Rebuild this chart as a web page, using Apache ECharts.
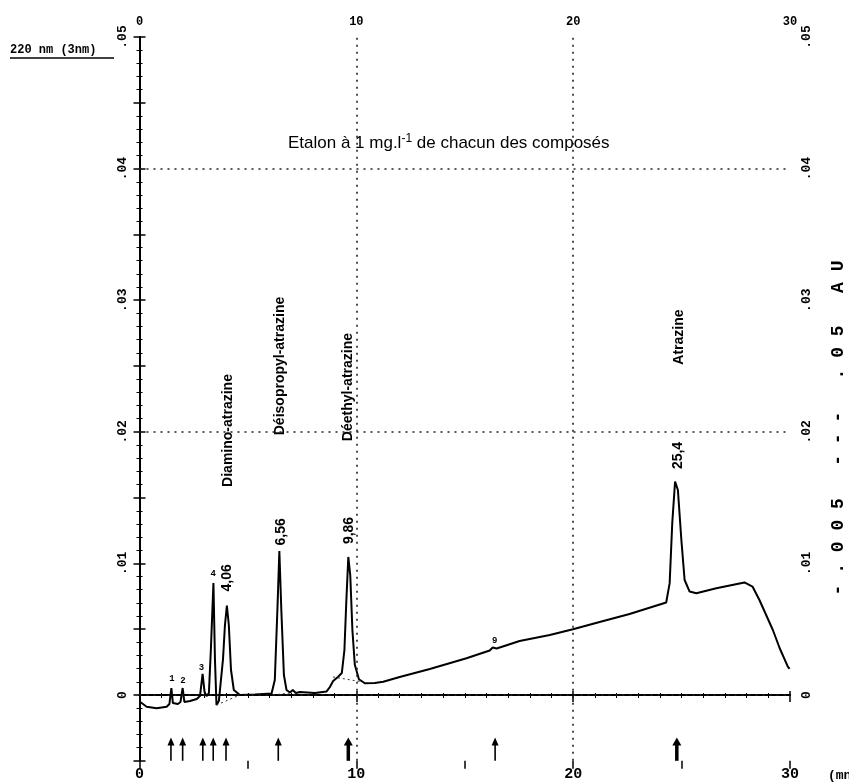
<!DOCTYPE html>
<html><head><meta charset="utf-8">
<script src="https://cdn.jsdelivr.net/npm/echarts@6/dist/echarts.min.js"></script>
<style>html,body{margin:0;padding:0;background:#fff}#c{width:849px;height:784px}</style>
</head><body><div id="c"></div>
<script>
// ---- data (time in min, absorbance in AU) ----
const traceTime = [0.02,0.33,0.79,1.25,1.38,1.47,1.54,1.77,1.89,1.99,2.07,2.33,2.64,2.79,2.91,3.0,3.09,3.2,3.29,3.41,3.48,3.55,3.66,3.85,3.94,4.03,4.12,4.22,4.35,4.63,5.32,6.09,6.24,6.36,6.45,6.54,6.66,6.78,6.94,7.07,7.21,7.4,8.09,8.63,8.78,8.93,9.15,9.33,9.45,9.54,9.63,9.72,9.82,9.93,10.12,10.39,10.85,11.24,12.0,13.39,15.08,16.15,16.29,16.38,16.47,17.53,18.92,19.99,21.22,22.6,24.29,24.45,24.57,24.7,24.83,24.99,25.14,25.37,25.68,26.6,27.9,28.27,28.59,29.21,29.52,29.9,29.98];
const traceAbs = [-0.00051,-0.00089,-0.00101,-0.00089,-0.00068,0.00053,-0.00061,-0.00068,-0.00053,0.00053,-0.00053,-0.00046,-0.0003,-0.00008,0.0016,0.00023,-0.00008,0.00015,0.0034,0.0085,0.0027,-0.00076,-0.00046,0.0027,0.0053,0.0068,0.0053,0.0019,0.00038,0.0,0.00004,0.00011,0.00114,0.0065,0.01094,0.0065,0.00152,0.00038,0.00019,0.00038,0.00015,0.00023,0.00015,0.00027,0.00061,0.00106,0.00137,0.00167,0.0034,0.0072,0.01049,0.0091,0.0049,0.0023,0.0012,0.00089,0.00091,0.00101,0.00137,0.00198,0.00279,0.00338,0.00361,0.00369,0.00353,0.0041,0.00456,0.00499,0.00555,0.00616,0.00703,0.0085,0.01307,0.01621,0.01558,0.01178,0.00874,0.00786,0.00773,0.00811,0.00855,0.00824,0.00722,0.00494,0.00357,0.00215,0.00198];
const baseTime = [3.55,4.63,null,6.15,6.94,null,8.92,10.3];
const baseAbs  = [-0.00076,0.0,null,0.0,0.00015,null,0.00137,0.00099];
const arrowTime = [1.45,1.99,2.92,3.40,3.99,6.40,9.63,16.4,24.78];
const arrowBold = [0,0,0,0,0,0,1,0,1];
const rtLabels = ['4,06','6,56','9,86','25,4'];
const rtTime = [4.03,6.52,9.65,24.82];
const rtAbs = [0.0089,0.0124,0.0125,0.0182];
const compoundNames = ['Diamino-atrazine','Déisopropyl-atrazine','Déethyl-atrazine','Atrazine'];
const compoundTime = [4.09,6.47,9.61,24.9];
const compoundAbs = [0.0201,0.025,0.0234,0.0272];
const peakNums = ['1','2','3','4','9'];
const peakNumTime = [1.5,2.0,2.86,3.4,16.38];
const peakNumAbs = [0.0012,0.0011,0.0021,0.0092,0.0041];
const xTickLabels = ['0','10','20','30'];
const gridLinesAbs = [0,0.02,0.04];
const gridLinesTime = [10,20];

const chart = echarts.init(document.getElementById('c'));
const ink = '#000';
const monoFont = "'Liberation Mono','DejaVu Sans Mono',monospace";
const narrowFont = "'Liberation Sans Narrow','Liberation Sans',Arial,sans-serif";
const sansFont = "'Liberation Sans',Arial,sans-serif";

function yFmt(v){
  const k = Math.round(v*100);
  if (Math.abs(v*100-k) > 1e-6 || k < 0) return '';
  return k === 0 ? '0' : '.0' + k;
}
function xFmt(v){
  const i = [0,10,20,30].indexOf(Math.round(v));
  return i >= 0 ? xTickLabels[i] : '';
}

const yAxisCommon = {
  type:'value', min:-0.005, max:0.05, interval:0.005,
  axisLine:{show:true, lineStyle:{color:ink, width:2}},
  axisTick:{show:true, length:6, lineStyle:{color:ink, width:1.5}},
  minorTick:{show:true, splitNumber:5, length:3, lineStyle:{color:ink, width:1}},
  splitLine:{show:false},
  axisLabel:{formatter:yFmt, rotate:90, color:ink, fontFamily:monoFont, fontWeight:'bold', fontSize:13, margin:10}
};

chart.setOption({
  animation:false,
  backgroundColor:'#fff',
  grid:{left:139.5, right:59, top:37, bottom:23.2, containLabel:false},
  xAxis:[
    {type:'value', position:'bottom', min:0, max:30, interval:10,
     axisLine:{lineStyle:{color:ink, width:2}},
     axisTick:{length:7, lineStyle:{color:ink, width:1.5}},
     minorTick:{show:true, splitNumber:10, length:3, lineStyle:{color:ink}},
     splitLine:{show:false},
     axisLabel:{formatter:xFmt, color:ink, fontFamily:monoFont, fontWeight:'bold', fontSize:15, margin:6}},
    {type:'value', position:'top', min:0, max:30, interval:10,
     axisLine:{lineStyle:{color:ink, width:2}},
     axisTick:{length:4, lineStyle:{color:ink, width:1.5}},
     minorTick:{show:true, splitNumber:10, length:2, lineStyle:{color:ink}},
     splitLine:{show:false},
     axisLabel:{formatter:xFmt, color:ink, fontFamily:monoFont, fontWeight:'bold', fontSize:12, margin:9}},
    {type:'value', position:'bottom', min:0, max:30, interval:5,
     axisLine:{show:false}, axisLabel:{show:false}, splitLine:{show:false},
     axisTick:{length:8, lineStyle:{color:ink, width:1.5}}}
  ],
  yAxis:[
    Object.assign({}, yAxisCommon, {position:'left'}),
    Object.assign({}, yAxisCommon, {position:'right'})
  ],
  graphic:[
    {type:'text', left:10, top:44, style:{text:'220 nm (3nm)', font:"bold 12px "+monoFont, fill:ink}},
    {type:'line', shape:{x1:10, y1:58, x2:114, y2:58}, style:{stroke:ink, lineWidth:1.5}},
    {type:'text', x:838, y:428, rotation:Math.PI/2,
     style:{text:'- . 0 0 5   - - -   . 0 5   A U', font:"bold 18px "+monoFont, fill:ink, align:'center', verticalAlign:'middle'}},
    {type:'text', x:828, y:769, style:{text:'(mn)', font:"bold 13px "+monoFont, fill:ink}}
  ],
  title:{
    text:'{a|Etalon à 1 mg.l}{s|-1}{a| de chacun des composés}',
    left:283, top:128,
    textStyle:{rich:{
      a:{fontFamily:sansFont, fontSize:17, fontWeight:'normal', color:ink, verticalAlign:'bottom'},
      s:{fontFamily:sansFont, fontSize:12, fontWeight:'normal', color:ink, verticalAlign:'top', padding:[0,0,7,0]}
    }}
  },
  series:[
    {type:'line', xAxisIndex:0, yAxisIndex:0, symbol:'none', silent:true,
     data: traceTime.map((t,i)=>[t, traceAbs[i]]),
     lineStyle:{color:ink, width:2},
     markLine:{silent:true, symbol:['none','none'], label:{show:false},
       lineStyle:{color:'#222', type:[2,5], width:1.6},
       data: gridLinesAbs.map(v=>({yAxis:v})).concat(gridLinesTime.map(t=>({xAxis:t})))}
    },
    {type:'line', xAxisIndex:0, yAxisIndex:0, symbol:'none', silent:true, connectNulls:false,
     data: baseTime.map((t,i)=> t===null ? [null,null] : [t, baseAbs[i]]),
     lineStyle:{color:'#333', width:1, type:[2,3]}},
    {type:'custom', xAxisIndex:0, yAxisIndex:0, silent:true,
     data: arrowTime.map((t,i)=>[t, arrowBold[i]]),
     renderItem:function(params, api){
       const t = api.value(0), b = api.value(1);
       const p0 = api.coord([t, -0.005]);
       const p1 = api.coord([t, -0.0033]);
       const w = b ? 4.5 : 3.5;
       return {type:'group', children:[
         {type:'line', shape:{x1:p0[0], y1:p0[1], x2:p1[0], y2:p1[1]+4}, style:{stroke:ink, lineWidth:b?3.5:1.6}},
         {type:'polygon', shape:{points:[[p1[0]-w, p1[1]+7],[p1[0], p1[1]-1],[p1[0]+w, p1[1]+7]]}, style:{fill:ink}}
       ]};
     }},
    {type:'scatter', xAxisIndex:0, yAxisIndex:0, silent:true, symbolSize:1, itemStyle:{color:'transparent'},
     data: compoundNames.map((n,i)=>({name:n, value:[compoundTime[i], compoundAbs[i]]})),
     label:{show:true, position:'inside', rotate:90, formatter:'{b}', color:ink, opacity:1, textBorderWidth:0, fontFamily:narrowFont, fontWeight:'bold', fontSize:14}},
    {type:'scatter', xAxisIndex:0, yAxisIndex:0, silent:true, symbolSize:1, itemStyle:{color:'transparent'},
     data: rtLabels.map((n,i)=>({name:n, value:[rtTime[i], rtAbs[i]]})),
     label:{show:true, position:'inside', rotate:90, formatter:'{b}', color:ink, opacity:1, textBorderWidth:0, fontFamily:sansFont, fontWeight:'bold', fontSize:14}},
    {type:'scatter', xAxisIndex:0, yAxisIndex:0, silent:true, symbolSize:1, itemStyle:{color:'transparent'},
     data: peakNums.map((n,i)=>({name:n, value:[peakNumTime[i], peakNumAbs[i]]})),
     label:{show:true, position:'inside', formatter:'{b}', color:ink, opacity:1, textBorderWidth:0, fontFamily:monoFont, fontWeight:'bold', fontSize:9}}
  ]
});
</script></body></html>
